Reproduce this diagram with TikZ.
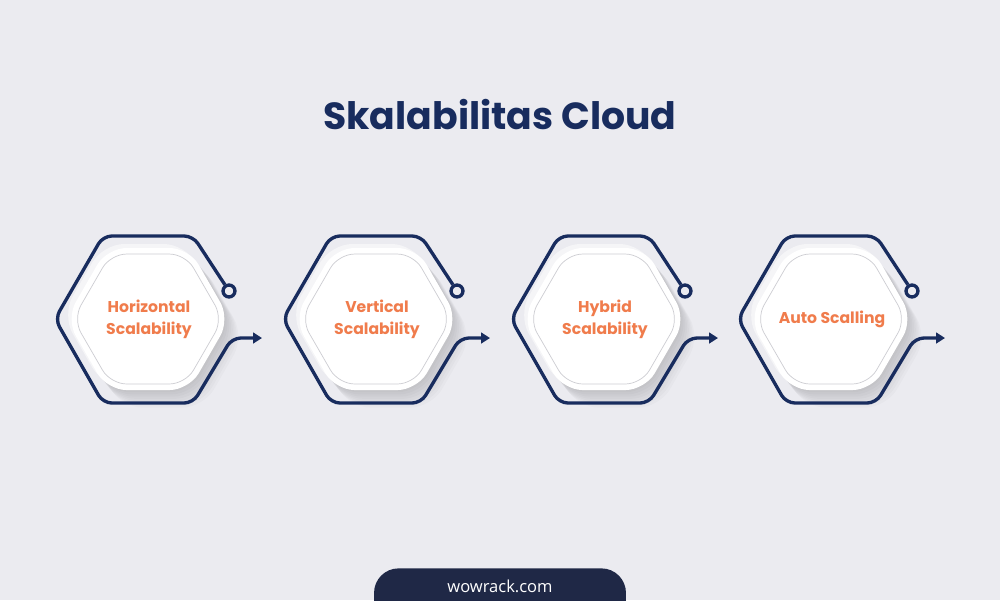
\documentclass[tikz,border=0pt]{standalone}
\usepackage{fontspec}
\setmainfont{Poppins}
\newfontfamily\footfont{Open Sans}
\usetikzlibrary{arrows.meta,positioning}
\definecolor{bgcol}{RGB}{235,235,240}
\definecolor{navy}{RGB}{24,44,94}
\definecolor{accent}{RGB}{240,124,76}
\definecolor{pillcol}{RGB}{31,40,70}
\definecolor{rimcol}{RGB}{205,205,210}
\tikzset{
  hexline/.style={draw=navy, line width=1.9pt, rounded corners=5pt},
  hexdot/.style={circle, draw=navy, line width=1.9pt, inner sep=0pt, minimum size=6.8pt},
  hexlabel/.style={text=accent, font=\bfseries\fontsize{8.9}{12.5}\selectfont, align=center},
  footbox/.style={fill=pillcol, rounded corners=14pt, minimum width=5.04cm, minimum height=1.28cm, inner sep=0pt},
  foottext/.style={text=white, font=\footfont\fontsize{9.4}{11}\selectfont}}

% rounded hexagon of radius #1 round the local origin
\newcommand{\hexshape}[1]{(0,-0.866*#1) -- (0.5*#1,-0.866*#1) -- (#1,0) -- (0.5*#1,0.866*#1)
  -- (-0.5*#1,0.866*#1) -- (-#1,0) -- (-0.5*#1,-0.866*#1) -- cycle}

\begin{document}
\begin{tikzpicture}[x=0.02cm, y=-0.02cm]
  \fill[bgcol] (0,0) rectangle (1000,600);
  \useasboundingbox (0,0) rectangle (1000,600);
  \clip (0,0) rectangle (1000,600);

  \node[text=navy, font=\bfseries\fontsize{21.5}{24}\selectfont, anchor=base] (title) at (500,129) {Skalabilitas Cloud};

  \foreach \i/\x/\txt in {1/148/{Horizontal\\Scalability}, 2/376/{Vertical\\Scalability},
                          3/604/{Hybrid\\Scalability}, 4/831/{Auto Scalling}} {
    \begin{scope}[shift={(\x,319)}]
      % soft shadow and highlight
      \foreach \k in {1,...,8}
        \fill[black, opacity=0.02, rounded corners=12pt, shift={(1.8*\k,2.2*\k)}] \hexshape{82};
      \fill[white, opacity=0.5, rounded corners=12pt, shift={(-4,-4)}] \hexshape{82};
      \fill[white, rounded corners=11pt] \hexshape{82};
      \draw[rimcol, line width=0.4pt, rounded corners=9pt] \hexshape{75};
      % outline with dot and arrow
      \node[hexdot] (dot\i) at (81,-28) {};
      \coordinate (tip\i) at (114,19);
      \draw[hexline, -{Triangle[length=5pt, width=6pt]}] (dot\i) -- (45,-83) -- (-45,-83) -- (-93,0)
        -- (-45,84) -- (45,84) -- (84,19) -- (tip\i);
      \node[hexlabel] (lbl\i) at (1,0) {\txt};
    \end{scope}
  }

  \node[footbox, anchor=north] (foot) at (500,568) {};
  \node[foottext, below=1.2mm of foot.north] (site) {wowrack.com};
\end{tikzpicture}
\end{document}
